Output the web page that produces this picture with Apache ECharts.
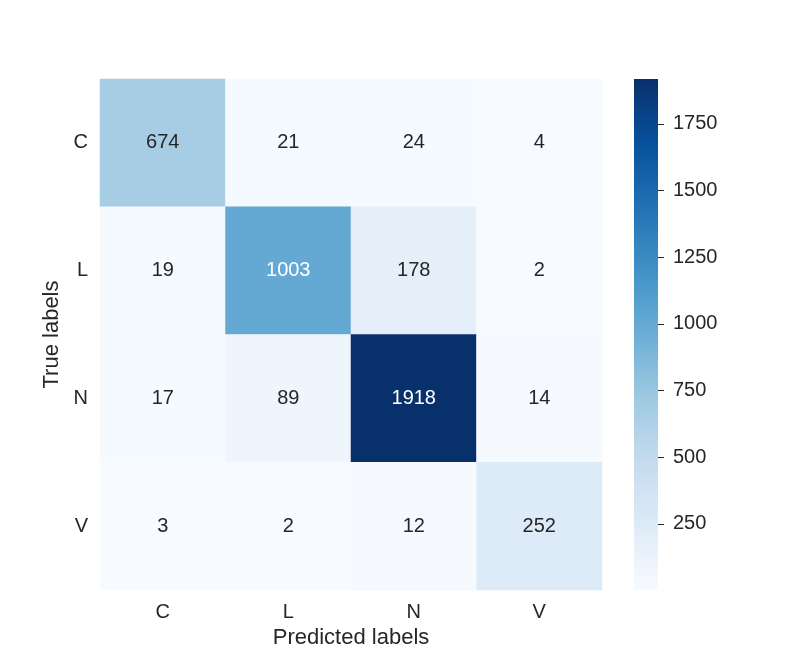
<!DOCTYPE html>
<html>
<head>
<meta charset="utf-8">
<script src="https://cdn.jsdelivr.net/npm/echarts@6/dist/echarts.min.js"></script>
<style>
html,body{margin:0;padding:0;background:#fff;}
#chart{width:808px;height:663px;}
</style>
</head>
<body>
<div id="chart"></div>
<script>
var predLabels = ['C', 'L', 'N', 'V'];
var trueLabels = ['C', 'L', 'N', 'V'];
// rows = true label, columns = predicted label
var rowC = [674, 21, 24, 4];
var rowL = [19, 1003, 178, 2];
var rowN = [17, 89, 1918, 14];
var rowV = [3, 2, 12, 252];
var barTicks = [250, 500, 750, 1000, 1250, 1500, 1750];

var rows = [rowC, rowL, rowN, rowV];
var vMin = 2, vMax = 1918;
var txt = '#262626';
var font = 'Liberation Sans, Arial, sans-serif';
var blues = ['#f7fbff', '#deebf7', '#c6dbef', '#9ecae1', '#6baed6',
	'#4292c6', '#2171b5', '#08519c', '#08306b'];

var cells = [];
for (var r = 0; r < rows.length; r++) {
	for (var c = 0; c < rows[r].length; c++) {
		var v = rows[r][c];
		cells.push({
			value: [c, r, v],
			label: { color: (v / vMax > 0.5) ? '#ffffff' : txt }
		});
	}
}

// colorbar gradient, bottom (low) to top (high)
var stops = [];
for (var i = 0; i < blues.length; i++) {
	stops.push({ offset: i / (blues.length - 1), color: blues[i] });
}

var myChart = echarts.init(document.getElementById('chart'));
myChart.setOption({
	backgroundColor: '#ffffff',
	textStyle: { fontFamily: font },
	grid: [
		{ left: 100, top: 79, width: 502, height: 511 },
		{ left: 634, top: 79, width: 24, height: 511 }
	],
	xAxis: [{
		type: 'category',
		gridIndex: 0,
		data: predLabels,
		name: 'Predicted labels',
		nameLocation: 'middle',
		nameGap: 35,
		nameTextStyle: { fontSize: 22, color: txt, fontFamily: font },
		axisLine: { show: false },
		axisTick: { show: false },
		axisLabel: { fontSize: 20, color: txt, margin: 12, fontFamily: font }
	}, {
		type: 'category',
		gridIndex: 1,
		data: ['cb'],
		show: false
	}],
	yAxis: [{
		type: 'category',
		gridIndex: 0,
		data: trueLabels,
		inverse: true,
		name: 'True labels',
		nameLocation: 'middle',
		nameGap: 32,
		nameTextStyle: { fontSize: 22, color: txt, fontFamily: font },
		axisLine: { show: false },
		axisTick: { show: false },
		axisLabel: { fontSize: 20, color: txt, margin: 12, fontFamily: font }
	}, {
		type: 'value',
		gridIndex: 1,
		position: 'right',
		min: vMin,
		max: vMax,
		axisLine: { show: true, lineStyle: { color: 'rgba(0,0,0,0)' } },
		splitLine: { show: false },
		axisTick: { show: true, length: 6, inside: false, customValues: barTicks,
			lineStyle: { color: txt, width: 1 } },
		axisLabel: { fontSize: 20, color: txt, margin: 15, fontFamily: font,
			customValues: barTicks, formatter: function (v) { return String(v); } }
	}],
	visualMap: {
		type: 'continuous',
		min: vMin,
		max: vMax,
		show: false,
		seriesIndex: 0,
		inRange: { color: blues }
	},
	series: [{
		type: 'heatmap',
		xAxisIndex: 0,
		yAxisIndex: 0,
		data: cells,
		label: { show: true, fontSize: 20, fontFamily: font, formatter: function (p) { return p.value[2]; } },
		itemStyle: { borderWidth: 0 },
		emphasis: { disabled: true }
	}, {
		type: 'bar',
		xAxisIndex: 1,
		yAxisIndex: 1,
		data: [vMax],
		barWidth: '100%',
		silent: true,
		itemStyle: {
			color: new echarts.graphic.LinearGradient(0, 1, 0, 0, stops)
		}
	}]
});
</script>
</body>
</html>
